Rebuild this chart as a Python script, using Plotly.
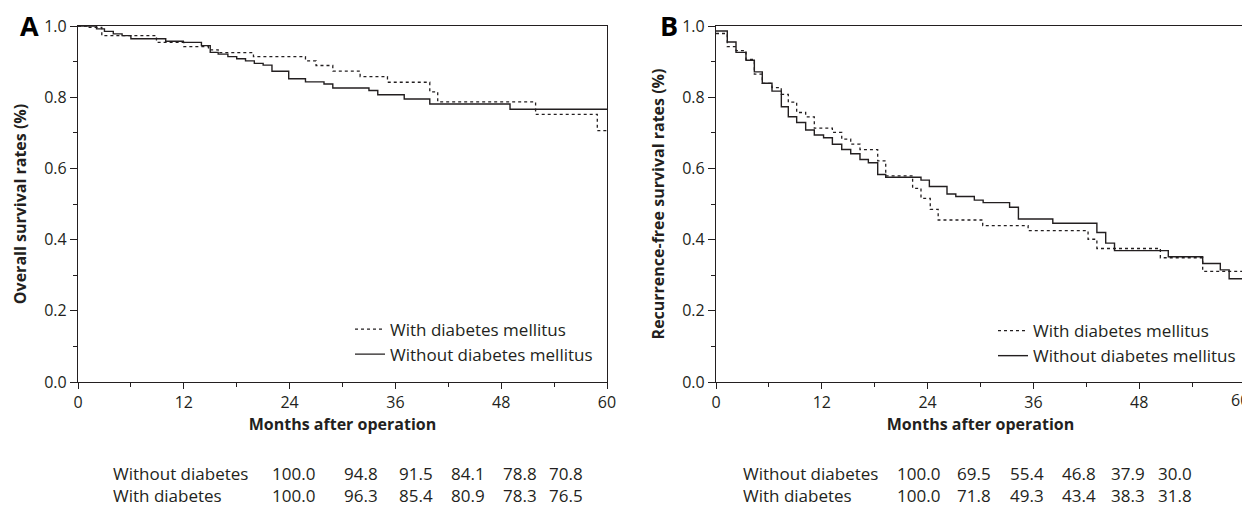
import plotly.graph_objects as go

# ---------------- data ----------------
# Panel A: overall survival
a_dm_t = [0, 1.0, 2.7, 8.9, 12.0, 14.8, 15.9, 19.9, 25.8, 27.0, 28.9, 32.0, 35.1, 39.9, 40.8, 51.9, 58.9, 60]
a_dm_s = [1.0, 0.996, 0.973, 0.954, 0.942, 0.933, 0.925, 0.914, 0.902, 0.889, 0.873, 0.858, 0.842, 0.815, 0.787, 0.752, 0.706, 0.706]
a_nodm_t = [0, 2.1, 3.0, 4.0, 5.0, 6.0, 9.95, 11.95, 14.0, 15.0, 15.9, 17.0, 18.0, 19.0, 20.0, 21.0, 22.0, 23.9, 25.8, 27.9, 28.9, 33.0, 34.0, 37.0, 39.9, 49.0, 60]
a_nodm_s = [1.0, 0.992, 0.985, 0.978, 0.973, 0.964, 0.957, 0.954, 0.945, 0.926, 0.921, 0.914, 0.908, 0.902, 0.895, 0.890, 0.873, 0.852, 0.843, 0.837, 0.826, 0.819, 0.807, 0.795, 0.781, 0.766, 0.766]

# Panel B: recurrence-free survival
b_dm_t = [0, 1.28, 2.27, 3.4, 4.35, 5.25, 6.35, 7.4, 8.2, 9.15, 10.17, 11.15, 13.2, 14.26, 15.28, 16.33, 18.34, 19.25, 22.3, 23.25, 24.3, 25.2, 30.25, 35.4, 42.2, 43.2, 50.4, 55.2, 60]
b_dm_s = [0.979, 0.942, 0.931, 0.906, 0.865, 0.839, 0.827, 0.808, 0.786, 0.757, 0.745, 0.713, 0.701, 0.682, 0.668, 0.653, 0.621, 0.579, 0.544, 0.516, 0.485, 0.455, 0.439, 0.425, 0.401, 0.375, 0.349, 0.311, 0.311]
b_nodm_t = [0, 1.28, 2.27, 3.4, 4.35, 5.25, 6.35, 7.41, 8.2, 9.15, 10.17, 11.15, 12.2, 13.2, 14.26, 15.28, 16.33, 17.28, 18.34, 19.25, 23.25, 24.2, 26.2, 27.2, 29.3, 30.3, 33.3, 34.3, 38.2, 43.2, 44.2, 45.2, 51.3, 55.2, 57.2, 58.2, 60]
b_nodm_s = [0.986, 0.955, 0.926, 0.904, 0.871, 0.839, 0.817, 0.773, 0.745, 0.729, 0.708, 0.694, 0.686, 0.668, 0.653, 0.641, 0.625, 0.616, 0.583, 0.575, 0.567, 0.549, 0.528, 0.521, 0.511, 0.504, 0.491, 0.458, 0.446, 0.420, 0.390, 0.369, 0.352, 0.333, 0.315, 0.290, 0.290]

x_ticks = [0, 12, 24, 36, 48, 60]
x_tick_labels = ["0", "12", "24", "36", "48", "60"]
y_ticks = [0.0, 0.2, 0.4, 0.6, 0.8, 1.0]

legend_labels = ["With diabetes mellitus", "Without diabetes mellitus"]
table_rows = ["Without diabetes", "With diabetes"]
table_a_without = ["100.0", "94.8", "91.5", "84.1", "78.8", "70.8"]
table_a_with = ["100.0", "96.3", "85.4", "80.9", "78.3", "76.5"]
table_b_without = ["100.0", "69.5", "55.4", "46.8", "37.9", "30.0"]
table_b_with = ["100.0", "71.8", "49.3", "43.4", "38.3", "31.8"]

# ---------------- styling ----------------
# page body has an 8px margin: figure is sized so it fills the 1250x507 window
OFF = 8
W, H = 1250 - OFF, 507 - OFF
INK = "#231f20"
FONT = "Open Sans"
FS_TICK = 16
FS_TITLE = 16
FS_TEXT = 17

def px_x(p):
    return (p - OFF) / W

def px_y(p):
    return 1 - (p - OFF) / H

fig = go.Figure()

def add_pair(tdm, sdm, tno, sno, xa, ya, leg):
    fig.add_trace(go.Scatter(x=tdm, y=sdm, mode="lines", line_shape="hv",
                             line=dict(color=INK, width=1.3, dash="dot"),
                             name=legend_labels[0], xaxis=xa, yaxis=ya,
                             legend=leg, legendgroup=leg + "a"))
    fig.add_trace(go.Scatter(x=tno, y=sno, mode="lines", line_shape="hv",
                             line=dict(color=INK, width=1.4),
                             name=legend_labels[1], xaxis=xa, yaxis=ya,
                             legend=leg, legendgroup=leg + "b"))

add_pair(a_dm_t, a_dm_s, a_nodm_t, a_nodm_s, "x", "y", "legend")
add_pair(b_dm_t, b_dm_s, b_nodm_t, b_nodm_s, "x2", "y2", "legend2")

ydom = [px_y(382), px_y(26)]

def xaxis_cfg(dom, anchor, labels):
    return dict(domain=dom, anchor=anchor, range=[0, 60], tickvals=x_ticks, ticktext=labels,
                automargin=False, ticklabeloverflow="allow",
                ticks="outside", ticklen=6, tickwidth=1, tickcolor=INK,
                minor=dict(dtick=6, tick0=0, ticks="outside", ticklen=4, tickwidth=1, tickcolor=INK),
                showline=True, linecolor=INK, linewidth=1.3, mirror=True,
                showgrid=False, zeroline=False,
                tickfont=dict(family=FONT, size=FS_TICK, color=INK),
                title=dict(text="<b>Months after operation</b>", standoff=5,
                           font=dict(family=FONT, size=FS_TITLE, color=INK)))

def yaxis_cfg(anchor, title):
    return dict(domain=ydom, anchor=anchor, range=[0, 1], tickvals=y_ticks,
                tickformat=".1f", automargin=False, ticklabeloverflow="allow",
                ticks="outside", ticklen=7, tickwidth=1, tickcolor=INK,
                minor=dict(dtick=0.1, tick0=0, ticks="outside", ticklen=4, tickwidth=1, tickcolor=INK),
                showline=True, linecolor=INK, linewidth=1.3, mirror=True,
                showgrid=False, zeroline=False,
                tickfont=dict(family=FONT, size=FS_TICK, color=INK),
                title=dict(text="<b>" + title + "</b>", standoff=13,
                           font=dict(family=FONT, size=FS_TITLE, color=INK)))

# the last label of panel B sits at the window edge; it is drawn as an
# annotation tied to x2=60 and nudged left so it is not clipped
labels_b = x_tick_labels[:-1] + [""]

fig.update_layout(
    width=W, height=H, margin=dict(l=0, r=0, t=0, b=0),
    paper_bgcolor="white", plot_bgcolor="white",
    font=dict(family=FONT, size=FS_TEXT, color=INK),
    xaxis=xaxis_cfg([px_x(78), px_x(607)], "y", x_tick_labels),
    yaxis=yaxis_cfg("x", "Overall survival rates (%)"),
    xaxis2=xaxis_cfg([px_x(716), px_x(1245)], "y2", labels_b),
    yaxis2=yaxis_cfg("x2", "Recurrence-free survival rates (%)"),
    legend=dict(x=px_x(350), y=px_y(372.5), xanchor="left", yanchor="bottom",
                bgcolor="rgba(0,0,0,0)", traceorder="grouped", tracegroupgap=0,
                itemwidth=30, font=dict(family=FONT, size=FS_TEXT, color=INK)),
    legend2=dict(x=px_x(993), y=px_y(374), xanchor="left", yanchor="bottom",
                 bgcolor="rgba(0,0,0,0)", traceorder="grouped", tracegroupgap=0,
                 itemwidth=30, font=dict(family=FONT, size=FS_TEXT, color=INK)),
    showlegend=True,
)

ann = []
for letter, lx in (("A", 29), ("B", 669)):
    ann.append(dict(text="<b>" + letter + "</b>", x=px_x(lx), y=px_y(25), xref="paper", yref="paper",
                    xanchor="center", yanchor="middle", showarrow=False,
                    font=dict(family=FONT, size=27, color="black")))

ann.append(dict(text=x_tick_labels[-1], x=x_ticks[-1], xref="x2", y=px_y(400), yref="paper",
                xanchor="center", yanchor="middle", xshift=-5, showarrow=False,
                font=dict(family=FONT, size=FS_TICK, color=INK)))

table_mid_y = 484.5
col_a = [269.5, 341.6, 397, 448.6, 501, 546.5]
col_b = [895, 955, 1007.7, 1059.5, 1108.9, 1155.6]

def add_table(label_x, cols, row1, row2):
    # one two-line annotation per column keeps the rows aligned
    ann.append(dict(text="<br>".join(table_rows), x=px_x(label_x), y=px_y(table_mid_y),
                    xref="paper", yref="paper", xanchor="left", yanchor="middle",
                    align="left", showarrow=False,
                    font=dict(family=FONT, size=FS_TEXT, color=INK)))
    for cx, v1, v2 in zip(cols, row1, row2):
        ann.append(dict(text=v1 + "<br>" + v2, x=px_x(cx), y=px_y(table_mid_y),
                        xref="paper", yref="paper", xanchor="left", yanchor="middle",
                        align="left", showarrow=False,
                        font=dict(family=FONT, size=FS_TEXT, color=INK)))

add_table(111, col_a, table_a_without, table_a_with)
add_table(741, col_b, table_b_without, table_b_with)

fig.update_layout(annotations=ann)
fig.write_html("out.html")
